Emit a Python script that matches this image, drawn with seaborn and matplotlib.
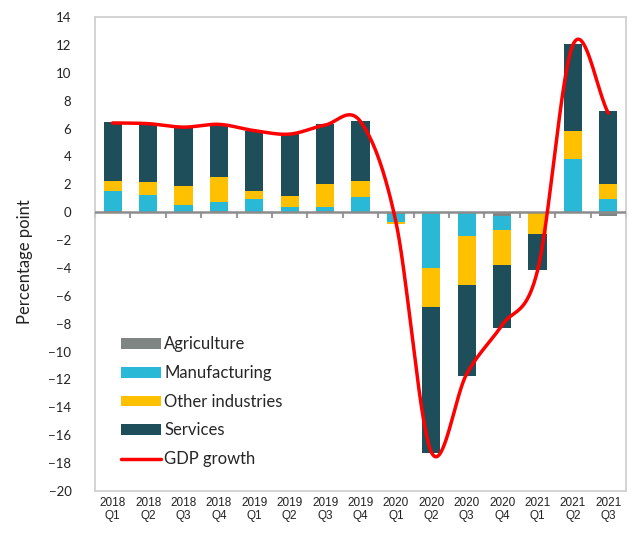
import numpy as np
import matplotlib
matplotlib.use("Agg")
import matplotlib.pyplot as plt
import seaborn as sns
from matplotlib.patches import Patch
from matplotlib.lines import Line2D

# ---------------- data ----------------
quarters = ["2018\nQ1", "2018\nQ2", "2018\nQ3", "2018\nQ4",
            "2019\nQ1", "2019\nQ2", "2019\nQ3", "2019\nQ4",
            "2020\nQ1", "2020\nQ2", "2020\nQ3", "2020\nQ4",
            "2021\nQ1", "2021\nQ2", "2021\nQ3"]
agriculture = [0.10, 0.00, 0.03, 0.10, 0.00, 0.00, 0.10, 0.00,
               -0.10, 0.00, 0.00, -0.25, -0.05, 0.00, -0.25]
manufacturing = [1.43, 1.24, 0.50, 0.60, 0.95, 0.38, 0.28, 1.10,
                 -0.60, -4.02, -1.72, -1.04, 0.00, 3.80, 0.93]
other_industries = [0.72, 0.89, 1.32, 1.83, 0.58, 0.75, 1.61, 1.15,
                    -0.18, -2.78, -3.47, -2.47, -1.55, 2.04, 1.06]
services = [4.19, 4.12, 4.21, 3.79, 4.27, 4.45, 4.33, 4.30,
            0.00, -10.45, -6.58, -4.57, -2.56, 6.20, 5.28]
gdp_growth = [6.40, 6.35, 6.10, 6.30, 5.85, 5.60, 6.25, 6.50,
              -0.70, -17.20, -11.60, -8.10, -4.20, 12.00, 7.10]

series_names = ["Agriculture", "Manufacturing", "Other industries", "Services"]
series_colors = ["#7F8582", "#29B8D5", "#FFC000", "#1D4E5A"]
gdp_color = "#FF0000"

# ---------------- style ----------------
sns.set_theme(style="white")
plt.rcParams['font.family'] = ['Lato', 'DejaVu Sans']

fig = plt.figure(figsize=(6.34, 5.37), dpi=100)
ax = fig.add_axes([95 / 634, 1 - 491 / 537, (626 - 95) / 634, (491 - 17) / 537])

# stacked bars (positive and negative parts stacked separately)
vals = np.array([agriculture, manufacturing, other_industries, services])
pos_cum = np.clip(vals, 0, None).cumsum(axis=0)
neg_cum = np.clip(vals, None, 0).cumsum(axis=0)
for stack in (pos_cum, neg_cum):
    for k in range(3, -1, -1):
        sns.barplot(x=quarters, y=stack[k], order=quarters,
                    color=series_colors[k], saturation=1, width=0.51,
                    errorbar=None, linewidth=0, ax=ax, zorder=2)

# smoothed GDP line (Catmull-Rom through data points, like Excel smoothing)
def smooth(y, n=40):
    y = np.asarray(y, float)
    p = np.concatenate([[2 * y[0] - y[1]], y, [2 * y[-1] - y[-2]]])
    xs, ys = [], []
    for i in range(len(y) - 1):
        p0, p1, p2, p3 = p[i], p[i + 1], p[i + 2], p[i + 3]
        t = np.linspace(0, 1, n, endpoint=(i == len(y) - 2))
        m1, m2 = (p2 - p0) / 2, (p3 - p1) / 2
        h00 = 2 * t**3 - 3 * t**2 + 1
        h10 = t**3 - 2 * t**2 + t
        h01 = -2 * t**3 + 3 * t**2
        h11 = t**3 - t**2
        ys.append(h00 * p1 + h10 * m1 + h01 * p2 + h11 * m2)
        xs.append(i + t)
    return np.concatenate(xs), np.concatenate(ys)

sx, sy = smooth(gdp_growth)
ax.plot(sx, sy, color=gdp_color, lw=2.5, solid_capstyle='round', zorder=4)

# zero line
ax.axhline(0, color="#8C8C8C", lw=1.8, zorder=3)

# axes
ax.set_xlim(-0.5, len(quarters) - 0.5)
ax.set_ylim(-20, 14)
ax.set_yticks(np.arange(-20, 15, 2))
ax.set_xticks(range(len(quarters)))
ax.set_xticklabels(quarters, fontsize=8.5, family=['Liberation Sans', 'DejaVu Sans'],
                   linespacing=1.15, color="#222222")
ax.tick_params(axis='x', length=0, pad=4)
ax.tick_params(axis='y', length=0, pad=17, labelsize=9.5, labelcolor="#222222")
for s in ax.spines.values():
    s.set_visible(True)
    s.set_color("#D0D0D0")
    s.set_linewidth(1.3)

# category boundary ticks on the zero line
sec = ax.secondary_xaxis((0 - (-20)) / 34)
sec.set_alignment('bottom')
sec.set_xticks(np.arange(-0.5, len(quarters), 1.0))
sec.tick_params(axis='x', length=4, width=1.5, color="#9A9A9A", labelbottom=False,
                labeltop=False, direction='out')
for s in sec.spines.values():
    s.set_visible(False)

ax.set_ylabel("Percentage point", fontsize=12, color="#222222")
ax.yaxis.set_label_coords(-0.117, 0.483)

handles = [Patch(facecolor=c, edgecolor='none') for c in series_colors]
handles.append(Line2D([0], [0], color=gdp_color, lw=2.5))
ax.legend(handles, series_names + ["GDP growth"], loc='upper left',
          bbox_to_anchor=(0.049, 0.326), frameon=False, fontsize=12,
          handlelength=2.4, handleheight=0.6, labelspacing=0.76,
          handletextpad=0.2, borderpad=0, borderaxespad=0)

fig.savefig("out.png", dpi=100)
